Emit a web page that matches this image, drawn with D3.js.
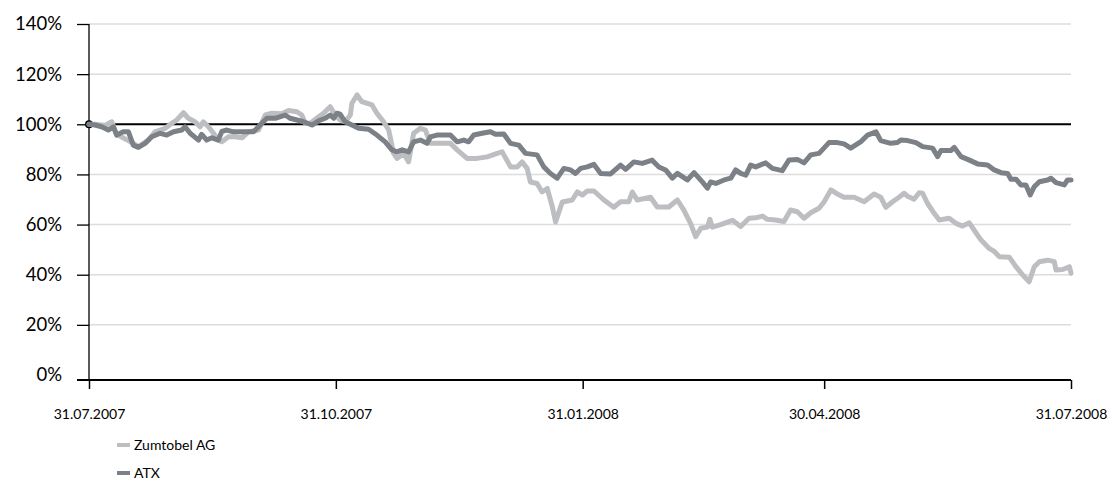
<!DOCTYPE html>
<html>
<head>
<meta charset="utf-8">
<style>
  body { margin: 0; background: #fff; font-family: Lato, "Open Sans", sans-serif; }
  .grid line { stroke: #dcdcdc; stroke-width: 1.5px; }
  .yaxis text { font-size: 18.5px; fill: #000; }
  .xaxis text { font-size: 14px; fill: #000; }
  .legend text { font-size: 14px; fill: #000; }
</style>
</head>
<body>
<div id="chart"></div>
<script src="https://cdn.jsdelivr.net/npm/d3@7"></script>
<script>
// day offsets since 31.07.2007 and index value in %
var zumtobel = [
  [0,100],[2.2,100],[6,99.5],[8.5,101],[10.3,96],[16.5,92.4],[18.4,91],[22.1,93.7],[24.6,97],[28.4,98.4],
  [30.9,100.4],[32.7,101.7],[35.2,104.6],[37,102.4],[39.5,101],[41.4,99],[42.6,101],[44.5,99],[46.4,96.4],
  [48.2,93.7],[49.5,93],[52,95],[54.5,95],[57,94.6],[59.4,97],[63.2,97.7],[65.7,103.7],[68.2,104.4],
  [71.9,104.2],[74.4,105.5],[77.5,105],[79.3,103.7],[80.6,100.4],[82.5,100.4],[85.6,103],[87.4,104.4],
  [89.9,107],[91.8,103.7],[93.6,101.7],[95.5,101],[97.4,103.7],[98,108.4],[99.9,111.7],[101.7,109],
  [105.5,107.7],[107.3,104.4],[109.8,101],[111.7,97.7],[113.5,88.4],[114.8,86.4],[117.3,88.4],[119.1,85],
  [121,96.4],[123.5,98.4],[125.4,97.7],[127.2,92.4],[131,92.4],[134.7,92.4],[137.2,89.8],[140.9,86.4],
  [144.6,86.4],[148.4,87],[152.1,88.4],[154,89],[157.1,83],[159.6,83],[161.4,85],[163.3,82.4],[164.5,77],
  [167,76.4],[168.9,73],[170.8,74.4],[172.7,67],[173.9,61],[176.4,69],[180.1,69.8],[182,73],[183.9,71.8],
  [185.7,73.4],[188.2,73.4],[191.9,69.8],[195.6,66.9],[198.1,69.1],[201.2,69.1],[202.5,73],[204.3,69.8],
  [209.3,70.9],[211.8,67],[216.1,67],[219.3,69.8],[221.7,65.8],[224.2,60.5],[226.1,55.2],[228,58.5],
  [230.5,59],[231.4,62.1],[232.3,59],[235.4,60],[239.8,61.7],[242.9,59.2],[246,62.5],[248.5,62.7],
  [251,63.4],[252.8,62.1],[255.9,61.8],[259,61.2],[261.5,65.8],[264,65.1],[266.5,62.5],[269,64.7],
  [272.1,66.5],[274,69.1],[276.5,73.8],[278.9,72.2],[281.4,70.9],[285.2,70.9],[288.9,69.1],[292.6,72.2],
  [295.1,70.9],[297,66.9],[299.5,69.1],[301.9,70.9],[303.8,72.5],[305.1,71.3],[307.5,70.1],[309.4,72.7],
  [310.7,72.5],[312.5,68.5],[315,64.5],[316.9,61.8],[320.6,62.5],[323.1,60.5],[325.6,59.4],[328.1,60.7],
  [329.9,57.8],[332.4,53.9],[335.5,50.5],[337.4,49.3],[339.3,47.2],[343,47],[345.5,43.2],[348,39.9],
  [350.4,37.2],[352.3,43.2],[354.2,45.2],[357.3,45.8],[359.8,45.2],[360.4,41.9],[362.9,42.1],[365.4,43.2],
  [366,40.6]
];

var atx = [
  [0,100],[2.2,99.7],[4.7,99],[7.2,97.7],[9.1,99],[10.3,95.7],[12.8,97],[14.7,97],[16.5,91.7],[18.4,90.8],
  [20.9,92.4],[23.4,95],[26.5,96.4],[29,95.7],[31.5,97],[34.6,97.7],[35.8,99],[37.7,96.4],[40.8,93.7],
  [42,96],[43.9,93.7],[45.8,94.6],[48.2,93.7],[49.5,97.2],[51.4,97.7],[53.8,97],[57,97],[61.3,97],
  [63.8,99.7],[66.3,102.4],[69.4,102.4],[73.1,103.7],[75,102.4],[77.5,101.7],[80,101],[83.1,99.7],
  [85.6,101.4],[88,102.4],[89.9,103.7],[91.2,102.4],[92.4,104.4],[93.6,104],[95.5,101],[98,99.7],
  [100.5,98.4],[104.2,98],[107.3,95.7],[110.4,93],[112.9,89.8],[114.8,89],[116.7,89.8],[119.1,89],
  [121,93],[123.5,93.7],[126,92.4],[127.2,95],[129.7,95.7],[134.7,95.7],[137.2,93],[139.7,93.7],
  [141.5,93],[143.4,95.7],[146.5,96.4],[149.6,97],[151.5,96],[154.6,96.1],[157.1,92.4],[160.2,91.7],
  [162.7,88.4],[167,87.8],[169.5,83],[172,80.4],[174.5,78.5],[177,82.4],[179.5,81.8],[181.3,80.4],
  [183.2,82.4],[185.7,83],[188.2,84],[190.7,80.4],[194.4,80.2],[198.1,83.7],[200,82],[203.1,85],
  [206.2,84.4],[209.9,85.7],[212.4,83],[214.9,81.8],[217.4,78.5],[219.3,80.4],[223,77.8],[225.5,80.7],
  [228.6,77],[230.5,74.5],[231.7,77],[233.6,76.4],[236.7,77.8],[239.2,78.5],[241,81.8],[242.9,80.4],
  [244.8,79.7],[246.6,83.7],[248.5,83],[252.2,84.6],[254.7,82.4],[258.4,81.5],[260.9,85.8],[264,86],
  [266.5,84.6],[269,87.8],[272.1,88.4],[275.8,92.7],[278.9,92.7],[281.4,92.2],[283.9,90.5],[287.7,93.1],
  [290.2,95.7],[293.3,97],[295.1,93.5],[298.8,92.4],[301.3,92.7],[302.6,93.7],[305.1,93.5],[308.2,92.7],
  [310.7,91.1],[314.4,90.5],[316.3,87.1],[317.5,89.5],[321.2,89.5],[322.5,90.8],[325,87.1],[327.5,86],
  [331.2,84.2],[334.9,83.8],[337.4,81.8],[339.9,80.7],[342.4,80.4],[343.6,78.1],[345.5,78.1],[347.3,75.8],
  [349.2,75.8],[350.8,71.8],[352.3,75.1],[354.2,77.1],[357.3,77.8],[358.5,78.5],[360.4,76.7],[363.5,75.8],
  [364.7,77.8],[366,77.8]
];

var tickDates = ["2007-07-31", "2007-10-31", "2008-01-31", "2008-04-30", "2008-07-31"];
var tickLabels = ["31.07.2007", "31.10.2007", "31.01.2008", "30.04.2008", "31.07.2008"];
var yTicks = [0, 20, 40, 60, 80, 100, 120, 140];
var seriesNames = ["Zumtobel AG", "ATX"];
var seriesColors = ["#bdbec1", "#7b8186"];

var width = 1113, height = 481;
var parse = d3.timeParse("%Y-%m-%d");
var start = parse(tickDates[0]);

var svg = d3.select("#chart").append("svg")
    .attr("width", width)
    .attr("height", height);

var x = d3.scaleTime()
    .domain([start, parse(tickDates[tickDates.length - 1])])
    .range([89, 1071]);

var y = d3.scaleLinear()
    .domain([0, 140])
    .range([375, 24]);

var xAxisY = 380;

// horizontal grid
svg.append("g").attr("class", "grid")
  .selectAll("line")
  .data(yTicks.filter(function(d) { return d > 0 && d != 100; }))
  .enter().append("line")
    .attr("x1", 89).attr("x2", 1071)
    .attr("y1", function(d) { return y(d); })
    .attr("y2", function(d) { return y(d); });

// 100% reference line
svg.append("line")
    .attr("x1", 89).attr("x2", 1071)
    .attr("y1", y(100)).attr("y2", y(100))
    .attr("stroke", "#000").attr("stroke-width", 2);

svg.append("circle")
    .attr("cx", 89).attr("cy", y(100)).attr("r", 4)
    .attr("fill", "#000");

// y axis
var yAxis = svg.append("g").attr("class", "yaxis")
    .attr("transform", "translate(89,0)")
    .call(d3.axisLeft(y).tickValues(yTicks).tickSize(12).tickPadding(15)
      .tickFormat(function(d) { return d + "%"; }));
yAxis.select(".domain").remove();
yAxis.selectAll(".tick line").attr("stroke", "#000").attr("stroke-width", 1.3);
yAxis.selectAll(".tick text").attr("font-family", "Lato, sans-serif");
yAxis.selectAll(".tick").filter(function(d) { return d === 0; }).select("line").remove();
yAxis.append("line")
    .attr("x1", 0).attr("x2", 0)
    .attr("y1", y(140)).attr("y2", xAxisY)
    .attr("stroke", "#000").attr("stroke-width", 1.3);

// x axis
var xAxis = svg.append("g").attr("class", "xaxis")
    .attr("transform", "translate(0," + xAxisY + ")")
    .call(d3.axisBottom(x).tickValues(tickDates.map(parse)).tickSize(9).tickPadding(20)
      .tickFormat(function(d, i) { return tickLabels[i]; }));
xAxis.select(".domain").remove();
xAxis.selectAll(".tick line").attr("stroke", "#000").attr("stroke-width", 1.5);
xAxis.selectAll(".tick text").attr("font-family", "Lato, sans-serif");
xAxis.append("line")
    .attr("x1", 77).attr("x2", 1071)
    .attr("y1", 0).attr("y2", 0)
    .attr("stroke", "#000").attr("stroke-width", 2.2);

// series lines
var line = d3.line()
    .x(function(d) { return x(start.getTime() + d[0] * 864e5); })
    .y(function(d) { return y(d[1]); });

[zumtobel, atx].forEach(function(data, i) {
  svg.append("path")
      .datum(data)
      .attr("fill", "none")
      .attr("stroke", seriesColors[i])
      .attr("stroke-width", 5)
      .attr("stroke-linejoin", "round")
      .attr("stroke-linecap", "round")
      .attr("d", line);
});

// legend
var legend = svg.append("g").attr("class", "legend");
seriesNames.forEach(function(name, i) {
  var ly = 445 + i * 28;
  legend.append("line")
      .attr("x1", 117).attr("x2", 130)
      .attr("y1", ly).attr("y2", ly)
      .attr("stroke", seriesColors[i]).attr("stroke-width", 4);
  legend.append("text")
      .attr("x", 134).attr("y", ly)
      .attr("dy", "0.35em")
      .attr("font-family", "Lato, sans-serif")
      .text(name);
});
</script>
</body>
</html>
